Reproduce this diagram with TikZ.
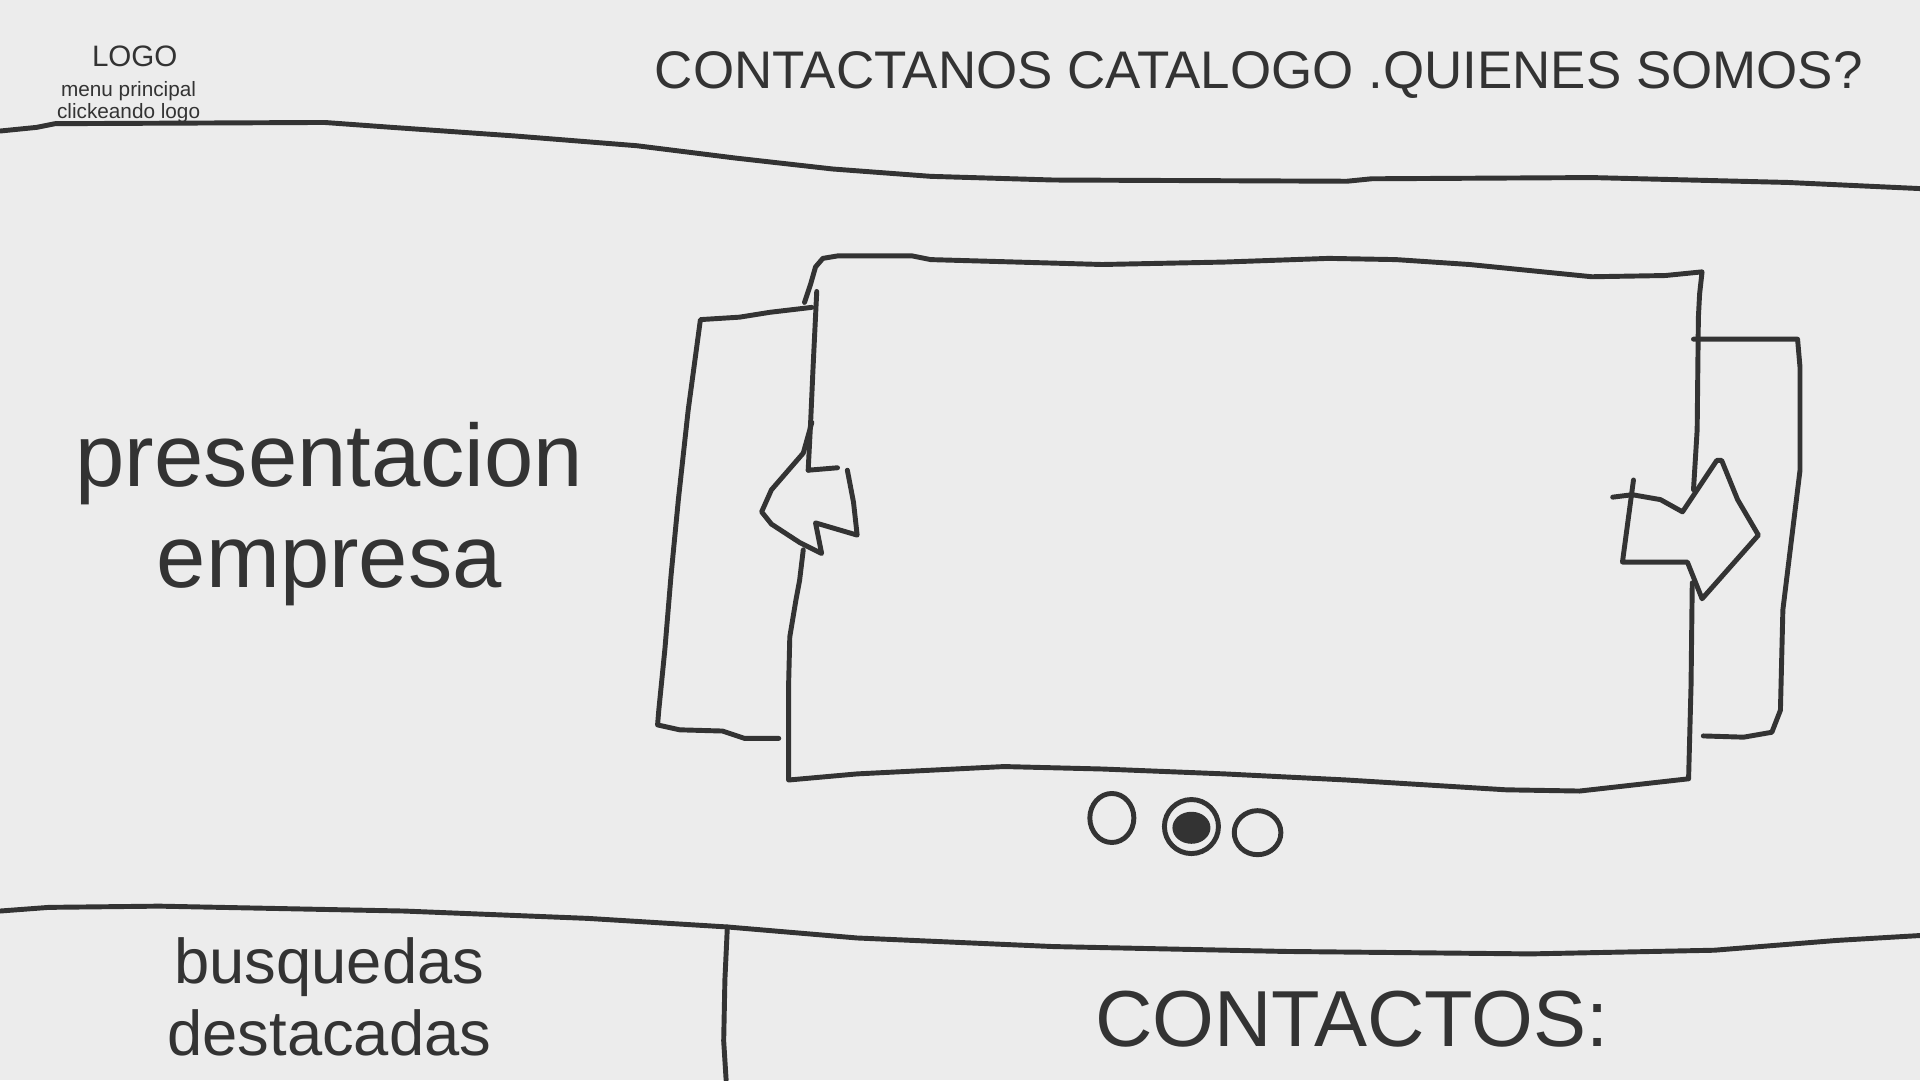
\documentclass[tikz,border=0pt]{standalone}
\usepackage{fontspec}
\setmainfont{Liberation Sans}
\usetikzlibrary{positioning}
\definecolor{ink}{HTML}{333333}
\definecolor{paper}{HTML}{ECECEC}
\tikzstyle{pen} = [draw=ink, line width=1.4pt, line cap=round, line join=round]
\tikzstyle{txt} = [text=ink, inner sep=0pt, anchor=base]

\begin{document}
\begin{tikzpicture}[x=0.012245cm, y=-0.012245cm]
		\fill[paper] (0,0) rectangle (1568,882);
		\useasboundingbox (0,0) rectangle (1568,882);
		% header texts
		\node (logo) [txt, font=\fontsize{8.4}{10}\selectfont] at (110,54) {LOGO};
		\node (menu) [txt, font=\fontsize{5.9}{7}\selectfont] at (105,79) {menu principal};
		\node (click) [txt, font=\fontsize{5.9}{7}\selectfont] at (105,97) {clickeando logo};
		\node (nav) [txt, font=\fontsize{15.05}{18}\selectfont] at (1028,72) {CONTACTANOS CATALOGO .QUIENES SOMOS?};
		% section texts
		\node (pres) [txt, font=\fontsize{25.2}{29}\selectfont] at (269,397) {presentacion};
		\node (emp) [txt, font=\fontsize{25.2}{29}\selectfont] at (269,480) {empresa};
		\node (busq) [txt, font=\fontsize{18}{21}\selectfont] at (269,803) {busquedas};
		\node (dest) [txt, font=\fontsize{18}{21}\selectfont] at (269,862) {destacadas};
		\node (contact) [txt, font=\fontsize{22.6}{26}\selectfont] at (1104,855) {CONTACTOS:};
		% separators
		\draw [pen] (0,107) -- (30,104) -- (45,101) -- (265,100) -- (320,104) -- (420,111) -- (520,119) -- (600,129) -- (680,138) -- (760,144) -- (860,147) -- (1100,148) -- (1120,146) -- (1300,145) -- (1460,149) -- (1568,154);
		\draw [pen] (0,744) -- (40,741) -- (130,740) -- (330,744) -- (480,750) -- (594,757) -- (700,766) -- (860,773) -- (1050,777) -- (1250,779) -- (1400,776) -- (1500,768) -- (1568,764);
		\draw [pen] (594,757) -- (592,800) -- (591,850) -- (593,882);
		% back panels
		\draw [pen] (663,251) -- (629,255) -- (604,259) -- (572,261) -- (562,335) -- (554,408) -- (548,470) -- (543,530) -- (538,580) -- (537,592) -- (555,596) -- (590,597) -- (608,603) -- (636,603);
		\draw [pen] (1383,277) -- (1468,277) -- (1470,300) -- (1470,384) -- (1462,449) -- (1456,498) -- (1454,580) -- (1447,598) -- (1424,602) -- (1391,601);
		% main slide
		\draw [pen] (657,247) -- (662,232) -- (666,218) -- (672,211) -- (684,209) -- (745,209) -- (760,212) -- (900,216) -- (1000,214) -- (1085,211) -- (1140,212) -- (1200,216) -- (1300,226) -- (1360,225) -- (1390,222) -- (1388,240) -- (1387,259) -- (1386,351) -- (1383,400);
		\draw [pen] (1382,476) -- (1381,560) -- (1379,636) -- (1290,646) -- (1230,645) -- (1100,637) -- (1000,632) -- (900,628) -- (820,626) -- (700,632) -- (644,637) -- (644,560) -- (645,520) -- (650,490) -- (653,474) -- (656,449);
		\draw [pen] (667,238) -- (664,300) -- (662,345) -- (660,384);
		% arrows
		\draw [pen] (663,345) -- (656,370) -- (630,400) -- (622,418) -- (630,428) -- (653,443) -- (671,452) -- (666,427) -- (700,437) -- (697,410) -- (692,384);
		\draw [pen] (684,382) -- (672,383) -- (660,384);
		\draw [pen] (1317,406) -- (1333,404) -- (1356,408) -- (1374,418) -- (1402,376) -- (1406,376) -- (1419,408) -- (1436,437) -- (1390,489) -- (1378,459) -- (1325,459) -- (1334,392);
		% slide dots
		\draw [pen] (908,668) ellipse [x radius=0.22cm, y radius=0.245cm];
		\draw [pen] (973,675) ellipse [x radius=0.27cm, y radius=0.27cm];
		\fill [ink] (973,676) ellipse [x radius=0.19cm, y radius=0.16cm];
		\draw [pen] (1027,680) ellipse [x radius=0.233cm, y radius=0.22cm];
	\end{tikzpicture}
\end{document}
